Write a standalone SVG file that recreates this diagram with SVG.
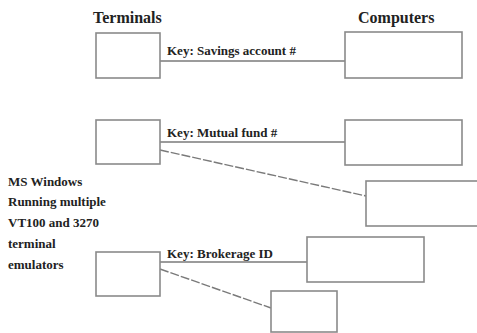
<svg xmlns="http://www.w3.org/2000/svg" width="477" height="333" viewBox="0 0 477 333">
<style>
.box{fill:#fff;stroke:#8a8a8a;stroke-width:1.6}
.ln{fill:none;stroke:#7a7a7a;stroke-width:1.6}
.dash{fill:none;stroke:#7a7a7a;stroke-width:1.4;stroke-dasharray:9 2}
.hd{font-family:"Liberation Serif",serif;font-weight:bold;font-size:16px;fill:#222}
.lb{font-family:"Liberation Serif",serif;font-weight:bold;font-size:13px;fill:#222}
</style>
<rect width="477" height="333" fill="#fff"/>
<text class="hd" x="93" y="23">Terminals</text>
<text class="hd" x="358" y="23">Computers</text>
<g id="connectors">
<line class="ln" x1="160" y1="61" x2="345" y2="61"/>
<line class="ln" x1="160" y1="142" x2="345" y2="142"/>
<line class="dash" x1="160" y1="150" x2="366" y2="196"/>
<line class="ln" x1="160" y1="262" x2="307" y2="262"/>
<line class="dash" x1="160" y1="269" x2="271" y2="308"/>
<text class="lb" x="167" y="55">Key: Savings account #</text>
<text class="lb" x="167" y="137">Key: Mutual fund #</text>
<text class="lb" x="167" y="258">Key: Brokerage ID</text>
</g>
<g id="terminal1"><rect class="box" x="96" y="33" width="64" height="45"/></g>
<g id="computer1"><rect class="box" x="345" y="32" width="117" height="46"/></g>
<g id="terminal2"><rect class="box" x="96" y="120" width="64" height="44"/></g>
<g id="computer2"><rect class="box" x="345" y="120" width="117" height="45"/></g>
<g id="computer3"><rect class="box" x="366" y="181" width="114" height="45"/></g>
<g id="terminal3"><rect class="box" x="96" y="252" width="64" height="44"/></g>
<g id="computer4"><rect class="box" x="307" y="237" width="117" height="45"/></g>
<g id="computer5"><rect class="box" x="271" y="291" width="66" height="41"/></g>
<g id="note">
<text class="lb" x="8" y="186">MS Windows</text>
<text class="lb" x="8" y="206">Running multiple</text>
<text class="lb" x="8" y="227">VT100 and 3270</text>
<text class="lb" x="8" y="248">terminal</text>
<text class="lb" x="8" y="269">emulators</text>
</g>
</svg>
